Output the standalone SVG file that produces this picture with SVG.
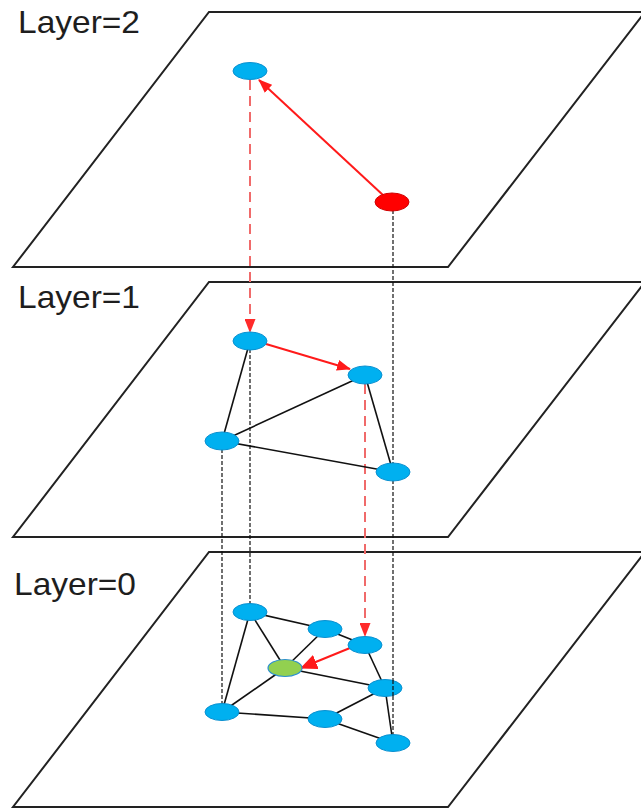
<svg xmlns="http://www.w3.org/2000/svg" width="641" height="810" viewBox="0 0 641 810">
<style>
.plane{fill:#fff;stroke:#222;stroke-width:2}
.lbl{font-family:"Liberation Sans","Open Sans",sans-serif;font-size:32px;fill:#1e1e1e}
.edge{stroke:#111;stroke-width:1.6;fill:none}
.vdash{stroke:#111;stroke-width:1.2;stroke-dasharray:4,2;fill:none}
.rdash{stroke:#f06a6a;stroke-width:2;stroke-dasharray:10,6;fill:none}
.rarrow{stroke:#ff1a1a;stroke-width:2;fill:none}
.blue{fill:#00b0f0;stroke:#0a90d0;stroke-width:1}
.red{fill:#ff0000;stroke:#d00000;stroke-width:1}
.green{fill:#92d050;stroke:#2a8fd0;stroke-width:1.2}
</style>
<defs>
<marker id="ah" markerUnits="userSpaceOnUse" markerWidth="14" markerHeight="11" refX="13" refY="5.5" orient="auto"><path d="M0,0 L14,5.5 L0,11 z" fill="#ff1a1a"/></marker>
<marker id="ahd" markerUnits="userSpaceOnUse" markerWidth="14" markerHeight="11" refX="13" refY="5.5" orient="auto"><path d="M0,0 L14,5.5 L0,11 z" fill="#ff2a2a"/></marker>
<marker id="ahb" markerUnits="userSpaceOnUse" markerWidth="17" markerHeight="15" refX="16" refY="7.5" orient="auto"><path d="M0,0 L17,7.5 L0,15 z" fill="#ff1a1a"/></marker>
</defs>
<g id="planes">
<polygon class="plane" points="209,12 645,12 448,267 13,267"/>
<polygon class="plane" points="209,282 645,282 448,537 13,537"/>
<polygon class="plane" points="209,552 645,552 448,807 13,807"/>
</g>
<g id="labels">
<text class="lbl" x="18" y="33" textLength="122" lengthAdjust="spacingAndGlyphs">Layer=2</text>
<text class="lbl" x="18" y="308" textLength="122" lengthAdjust="spacingAndGlyphs">Layer=1</text>
<text class="lbl" x="14" y="595" textLength="122" lengthAdjust="spacingAndGlyphs">Layer=0</text>
</g>
<g id="connectors">
<line class="vdash" x1="393" y1="210" x2="393" y2="742"/>
<line class="vdash" x1="250" y1="349" x2="250" y2="612"/>
<line class="vdash" x1="222" y1="449" x2="222" y2="711"/>
<line class="rdash" x1="250" y1="80" x2="250" y2="332" marker-end="url(#ahd)"/>
<line class="rdash" x1="365" y1="384" x2="365" y2="636" marker-end="url(#ahd)"/>
<line class="rarrow" x1="384" y1="196" x2="259" y2="80" marker-end="url(#ah)"/>
<line class="edge" x1="250" y1="341" x2="222" y2="441"/>
<line class="edge" x1="222" y1="441" x2="365" y2="375"/>
<line class="edge" x1="222" y1="441" x2="393" y2="472"/>
<line class="edge" x1="365" y1="375" x2="393" y2="472"/>
<line class="rarrow" x1="266" y1="344" x2="350" y2="369" marker-end="url(#ah)"/>
<line class="edge" x1="250" y1="612" x2="325" y2="629"/>
<line class="edge" x1="325" y1="629" x2="365" y2="645"/>
<line class="edge" x1="250" y1="612" x2="222" y2="712"/>
<line class="edge" x1="250" y1="612" x2="285" y2="668"/>
<line class="edge" x1="325" y1="629" x2="285" y2="668"/>
<line class="edge" x1="365" y1="645" x2="385" y2="688"/>
<line class="edge" x1="285" y1="668" x2="385" y2="688"/>
<line class="edge" x1="285" y1="668" x2="222" y2="712"/>
<line class="edge" x1="222" y1="712" x2="325" y2="719"/>
<line class="edge" x1="325" y1="719" x2="385" y2="688"/>
<line class="edge" x1="325" y1="719" x2="393" y2="743"/>
<line class="edge" x1="385" y1="688" x2="393" y2="743"/>
<line class="rarrow" x1="350" y1="648" x2="301" y2="668" marker-end="url(#ahb)"/>
</g>
<g id="n2a"><ellipse class="blue" cx="250" cy="71" rx="17" ry="8.5"/></g>
<g id="n2b"><ellipse class="red" cx="392" cy="202" rx="17" ry="9"/></g>
<g id="n1p"><ellipse class="blue" cx="250" cy="341" rx="17" ry="9"/></g>
<g id="n1q"><ellipse class="blue" cx="365" cy="375" rx="17" ry="9"/></g>
<g id="n1r"><ellipse class="blue" cx="222" cy="441" rx="17" ry="9"/></g>
<g id="n1s"><ellipse class="blue" cx="393" cy="472" rx="17" ry="9"/></g>
<g id="n0a"><ellipse class="blue" cx="250" cy="612" rx="17" ry="8.5"/></g>
<g id="n0b"><ellipse class="blue" cx="325" cy="629" rx="17" ry="8.5"/></g>
<g id="n0c"><ellipse class="blue" cx="365" cy="645" rx="17" ry="8.5"/></g>
<g id="n0g"><ellipse class="green" cx="285" cy="668" rx="17" ry="8.5"/></g>
<g id="n0d"><ellipse class="blue" cx="385" cy="688" rx="17" ry="8.5"/></g>
<g id="n0e"><ellipse class="blue" cx="222" cy="712" rx="17" ry="8.5"/></g>
<g id="n0f"><ellipse class="blue" cx="325" cy="719" rx="17" ry="8.5"/></g>
<g id="n0h"><ellipse class="blue" cx="393" cy="743" rx="17" ry="8.5"/></g>
<line class="vdash" x1="393" y1="680" x2="393" y2="696"/>
</svg>
